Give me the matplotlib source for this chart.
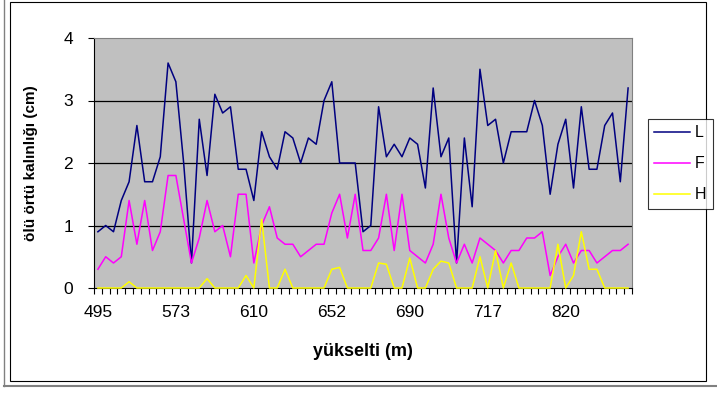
import matplotlib
matplotlib.use("Agg")
import matplotlib.pyplot as plt
import numpy as np
from matplotlib.lines import Line2D
from matplotlib.patches import Rectangle

plt.rcParams['font.family'] = ['Liberation Sans', 'DejaVu Sans']

# ---- data ----
L = [0.9, 1.0, 0.9, 1.4, 1.7, 2.6, 1.7, 1.7, 2.1, 3.6, 3.3, 2.0,
     0.4, 2.7, 1.8, 3.1, 2.8, 2.9, 1.9, 1.9, 1.4, 2.5, 2.1, 1.9,
     2.5, 2.4, 2.0, 2.4, 2.3, 3.0, 3.3, 2.0, 2.0, 2.0, 0.9,
     1.0, 2.9, 2.1, 2.3, 2.1, 2.4, 2.3, 1.6, 3.2, 2.1, 2.4, 0.4,
     2.4, 1.3, 3.5, 2.6, 2.7, 2.0, 2.5, 2.5, 2.5, 3.0, 2.6,
     1.5, 2.3, 2.7, 1.6, 2.9, 1.9, 1.9, 2.6, 2.8, 1.7, 3.2]
F = [0.3, 0.5, 0.4, 0.5, 1.4, 0.7, 1.4, 0.6, 0.9, 1.8, 1.8, 1.1,
     0.4, 0.8, 1.4, 0.9, 1.0, 0.5, 1.5, 1.5, 0.4, 1.0, 1.3, 0.8,
     0.7, 0.7, 0.5, 0.6, 0.7, 0.7, 1.2, 1.5, 0.8, 1.5, 0.6,
     0.6, 0.8, 1.5, 0.6, 1.5, 0.6, 0.5, 0.4, 0.7, 1.5, 0.8, 0.4,
     0.7, 0.4, 0.8, 0.7, 0.6, 0.4, 0.6, 0.6, 0.8, 0.8, 0.9,
     0.2, 0.5, 0.7, 0.4, 0.6, 0.6, 0.4, 0.5, 0.6, 0.6, 0.7]
H = [0, 0, 0, 0, 0.1, 0, 0, 0, 0, 0, 0, 0,
     0, 0, 0.15, 0, 0, 0, 0, 0.2, 0, 1.1, 0, 0,
     0.3, 0, 0, 0, 0, 0, 0.3, 0.33, 0, 0, 0,
     0, 0.4, 0.38, 0, 0, 0.48, 0, 0, 0.3, 0.43, 0.4, 0,
     0, 0, 0.5, 0, 0.6, 0, 0.4, 0, 0, 0, 0,
     0, 0.7, 0, 0.2, 0.9, 0.3, 0.3, 0, 0, 0, 0]
tick_labels = ['495', '573', '610', '652', '690', '717', '820']
label_step = 10

n = len(L)
x = np.arange(n)

fig = plt.figure(figsize=(7.17, 3.93), dpi=100)
fig.patch.set_facecolor('white')

# outer chart frame like excel
fig.add_artist(Rectangle((10 / 717, 1 - 381 / 393), 696 / 717, 379 / 393,
                         transform=fig.transFigure, fill=False, edgecolor='black', lw=0.8))
fig.add_artist(Line2D([4 / 717, 1], [1 - 386 / 393] * 2, transform=fig.transFigure,
                      color='#808080', lw=1.5))
fig.add_artist(Line2D([4 / 717, 4 / 717], [1 - 386 / 393, 1], transform=fig.transFigure,
                      color='#808080', lw=1.0))

ax = fig.add_axes([94 / 717, 1 - 288 / 393, 538 / 717, 250 / 393])
ax.set_facecolor('#C0C0C0')
for s in ax.spines.values():
    s.set_color('#808080')
ax.spines['left'].set_color('black')
ax.spines['bottom'].set_color('black')

for g in [1, 2, 3]:
    ax.axhline(g, color='black', lw=0.9, zorder=1)

ax.plot(x, L, color='#000080', lw=1.1, label='L', zorder=3)
ax.plot(x, F, color='#FF00FF', lw=1.1, label='F', zorder=3)
ax.plot(x, H, color='#FFFF00', lw=1.1, label='H', zorder=4, clip_on=False)

ax.set_xlim(-0.5, n - 0.5)
ax.set_ylim(0, 4)
ax.set_yticks([0, 1, 2, 3, 4])
ax.tick_params(axis='y', direction='out', length=4, width=0.8, labelsize=12.5, pad=11)

# ticks between categories, labels on every 10th category
ax.set_xticks(np.arange(-0.5, n, 1))
ax.set_xticklabels([])
ax.tick_params(axis='x', which='major', direction='out', length=4, width=0.8)
ax.set_xticks(x[::label_step], minor=True)
ax.set_xticklabels(tick_labels, minor=True)
ax.tick_params(axis='x', which='minor', length=0, labelsize=12.5, pad=12)

ax.set_xlabel('yükselti (m)', fontsize=13, fontweight='bold', labelpad=17)
ax.set_ylabel('ölü örtü kalınlığı (cm)', fontsize=11, fontweight='bold', labelpad=18)

leg = fig.legend(loc='upper left', bbox_to_anchor=(648 / 717, 1 - 119 / 393),
                 frameon=True, fancybox=False, edgecolor='black', fontsize=11.5,
                 handlelength=2.2, handletextpad=0.35, labelspacing=1.0,
                 borderpad=0.4, borderaxespad=0)
leg.get_frame().set_linewidth(0.8)

fig.savefig('out.png', dpi=100)
